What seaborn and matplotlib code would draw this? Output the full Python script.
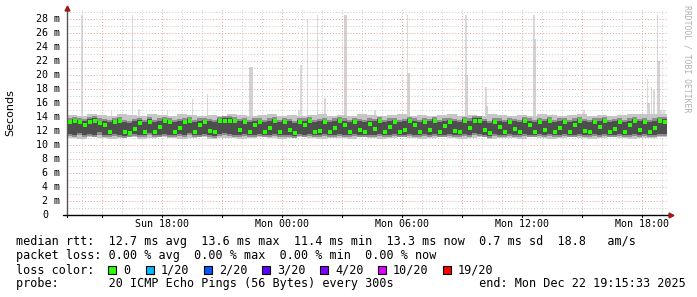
import numpy as np
import pandas as pd
import matplotlib
matplotlib.use("Agg")
import matplotlib.pyplot as plt
import seaborn as sns

# ---------------- data ----------------
# time axis: hours after the start of the window (Sun 13:15:33 -> Mon 19:15:33)
step_h = 0.25
median_ms = [
    13.3, 13.4, 13.3, 12.8, 13.3, 13.4, 13.2, 12.9, 11.9, 13.3,
    13.4, 11.8, 11.7, 12.3, 13.2, 11.9, 13.3, 11.8, 12.6, 13.4,
    13.3, 11.9, 12.4, 13.3, 13.4, 11.8, 12.9, 13.3, 12.0, 11.8,
    13.4, 13.5, 13.5, 13.4, 12.2, 13.3, 11.9, 12.8, 13.3, 11.8,
    12.5, 13.4, 11.9, 13.3, 12.1, 11.7, 13.3, 12.8, 13.4, 11.9,
    12.0, 13.3, 11.8, 12.4, 13.4, 12.9, 11.9, 13.3, 12.2, 11.8,
    13.0, 12.3, 13.4, 11.9, 12.6, 13.3, 11.8, 12.1, 13.4, 12.8,
    11.9, 13.3, 12.2, 13.4, 11.8, 12.7, 13.3, 12.0, 11.9, 13.4,
    12.4, 13.5, 13.5, 12.1, 11.7, 13.3, 12.6, 11.9, 13.3, 12.3,
    11.8, 13.4, 12.8, 11.9, 13.3, 12.1, 13.4, 11.8, 12.5, 13.3,
    11.9, 12.9, 13.4, 12.0, 11.8, 13.3, 12.6, 13.4, 11.9, 12.3,
    13.3, 11.8, 12.8, 13.4, 12.1, 13.3, 11.9, 12.5, 13.4, 13.3,
]
smoke_lo = [
    11.0, 10.9, 11.1, 11.0, 10.8, 11.0, 11.1, 10.9, 11.0, 11.2,
    11.0, 10.9, 11.0, 11.1, 10.9, 11.0, 11.0, 10.8, 11.0, 11.1,
    11.0, 10.9, 11.0, 11.1, 11.0, 10.9, 11.0, 11.0, 10.9, 11.1,
    11.0, 10.9, 11.0, 11.1, 11.0, 10.9, 11.0, 11.1, 11.0, 10.9,
    11.0, 11.1, 10.9, 11.0, 11.0, 10.9, 11.1, 11.0, 10.9, 11.0,
    11.1, 11.0, 10.9, 11.0, 11.1, 11.0, 10.9, 11.0, 11.0, 11.1,
]
smoke_hi = [
    14.3, 14.2, 14.4, 14.3, 14.1, 14.4, 14.3, 14.2, 14.5, 14.3,
    14.2, 14.4, 14.3, 14.2, 14.3, 14.1, 14.4, 14.3, 14.2, 14.3,
    14.4, 14.2, 14.3, 14.1, 14.3, 14.4, 14.2, 14.3, 14.2, 14.4,
    14.3, 14.2, 14.3, 14.4, 14.2, 14.3, 14.1, 14.3, 14.4, 14.2,
    14.3, 14.2, 14.4, 14.3, 14.2, 14.3, 14.2, 14.4, 14.3, 14.2,
    14.3, 14.4, 14.2, 14.3, 14.2, 14.3, 14.4, 14.5, 14.4, 14.5,
]
core_lo = [
    11.6, 11.5, 11.7, 11.4, 11.6, 11.5, 11.8, 11.5, 11.4, 11.6,
    11.5, 11.3, 11.4, 11.6, 11.5, 11.4, 11.7, 11.4, 11.5, 11.6,
    11.5, 11.4, 11.6, 11.5, 11.7, 11.4, 11.5, 11.6, 11.4, 11.3,
    11.6, 11.7, 11.6, 11.5, 11.4, 11.6, 11.4, 11.5, 11.6, 11.4,
    11.5, 11.6, 11.4, 11.5, 11.5, 11.3, 11.6, 11.5, 11.6, 11.4,
    11.5, 11.6, 11.4, 11.5, 11.6, 11.5, 11.4, 11.6, 11.5, 11.4,
    11.5, 11.5, 11.6, 11.4, 11.5, 11.6, 11.4, 11.5, 11.6, 11.5,
    11.4, 11.6, 11.5, 11.6, 11.4, 11.5, 11.6, 11.5, 11.4, 11.6,
    11.5, 11.7, 11.6, 11.5, 11.3, 11.6, 11.5, 11.4, 11.6, 11.5,
    11.4, 11.6, 11.5, 11.4, 11.6, 11.5, 11.6, 11.4, 11.5, 11.6,
    11.4, 11.5, 11.6, 11.5, 11.4, 11.6, 11.5, 11.6, 11.4, 11.5,
    11.6, 11.4, 11.5, 11.6, 11.5, 11.6, 11.4, 11.5, 11.6, 11.6,
]
core_hi = [
    13.6, 13.7, 13.6, 13.4, 13.7, 13.8, 13.5, 13.4, 13.3, 13.6,
    13.7, 13.3, 13.2, 13.4, 13.6, 13.3, 13.7, 13.3, 13.5, 13.7,
    13.6, 13.3, 13.4, 13.6, 13.7, 13.3, 13.5, 13.6, 13.4, 13.3,
    13.7, 13.8, 13.8, 13.7, 13.4, 13.6, 13.3, 13.5, 13.6, 13.3,
    13.5, 13.7, 13.3, 13.6, 13.4, 13.2, 13.6, 13.5, 13.7, 13.3,
    13.4, 13.6, 13.3, 13.5, 13.7, 13.5, 13.3, 13.6, 13.4, 13.3,
    13.5, 13.4, 13.7, 13.3, 13.5, 13.6, 13.3, 13.4, 13.7, 13.5,
    13.3, 13.6, 13.4, 13.7, 13.3, 13.5, 13.6, 13.4, 13.3, 13.7,
    13.5, 13.8, 13.8, 13.4, 13.2, 13.6, 13.5, 13.3, 13.6, 13.4,
    13.3, 13.7, 13.5, 13.3, 13.6, 13.4, 13.7, 13.3, 13.5, 13.6,
    13.3, 13.5, 13.7, 13.4, 13.3, 13.6, 13.5, 13.7, 13.3, 13.4,
    13.6, 13.3, 13.5, 13.7, 13.4, 13.6, 13.3, 13.5, 13.7, 13.7,
]
# narrow high-latency spikes (hour offset, top in ms)
spike_hour = [0.70, 2.18, 3.23, 3.55, 4.98, 6.23, 6.98, 9.12, 11.55, 11.65,
              11.98, 12.48, 12.85, 13.85, 15.35, 16.98, 19.90, 20.90, 23.30,
              24.23, 25.80, 28.98, 29.18, 29.30, 29.48, 29.65, 29.80]
spike_top = [28.6, 14.8, 28.6, 15.1, 14.8, 16.6, 17.3, 21.2, 15.0, 21.4,
             28.0, 28.6, 16.7, 28.6, 15.0, 28.6, 28.6, 18.3, 28.6,
             14.4, 15.0, 19.4, 18.3, 17.9, 28.6, 15.0, 15.0]
# denser lower part of some spikes
spike2_hour = [9.12, 13.85, 16.98, 19.90, 20.90, 23.30, 28.98, 29.48]
spike2_top = [21.2, 28.6, 20.3, 20.0, 15.6, 25.1, 16.0, 22.0]

x_tick_hours = [4.741, 10.741, 16.741, 22.741, 28.741]
x_tick_labels = ["Sun 18:00", "Mon 00:00", "Mon 06:00", "Mon 12:00", "Mon 18:00"]
y_ticks = list(range(0, 30, 2))
y_tick_labels = ["0"] + [f"{v} m" for v in y_ticks[1:]]

loss_labels = ["0", "1/20", "2/20", "3/20", "4/20", "10/20", "19/20"]
loss_colors = ["#26ff00", "#00b8ff", "#0059ff", "#5e00ff", "#7e00ff", "#dd00ff", "#ff0000"]

# ---------------- figure ----------------
sns.set_theme(style="white")
plt.rcParams["font.family"] = ["DejaVu Sans Mono", "DejaVu Sans"]

W, H = 697, 297
fig = plt.figure(figsize=(W / 100, H / 100), dpi=100)
fig.patch.set_facecolor("white")
ax = fig.add_axes([67 / W, (H - 215) / H, 600 / W, 205 / H])
ax.set_facecolor("white")
XMAX, YMAX = 30.0, 29.3
ax.set_xlim(0, XMAX)
ax.set_ylim(0, YMAX)

t = np.arange(len(median_ms)) * step_h
t_edges = np.append(t, t[-1] + step_h)
t_half = np.arange(len(smoke_lo)) * 0.5
t_half_edges = np.append(t_half, t_half[-1] + 0.5)

# spikes
ax.bar(spike_hour, np.array(spike_top) - 14.0, bottom=14.0, width=0.09,
       color="#dadada", linewidth=0, zorder=1, align="edge")
ax.bar(spike2_hour, np.array(spike2_top) - 14.0, bottom=14.0, width=0.16,
       color="#d2d2d2", linewidth=0, zorder=1.1, align="edge")

# grid
for v in np.arange(1, 30, 2):
    ax.axhline(v, color="#c8c8c8", lw=0.7, ls=(0, (1, 2)), zorder=1.5)
for v in np.arange(2, 30, 2):
    ax.axhline(v, color="#e4a0a0", lw=0.7, ls=(0, (1, 2)), zorder=1.5)
for h in np.arange(0.741, XMAX, 1.0):
    is_major = abs(((h - 1.741) / 3.0) - round((h - 1.741) / 3.0)) < 1e-6
    ax.axvline(h, color="#e4a0a0" if is_major else "#c8c8c8", lw=0.7,
               ls=(0, (1, 2)), zorder=1.5)

# smoke
ax.fill_between(t_half_edges, np.append(smoke_lo, smoke_lo[-1]),
                np.append(smoke_hi, smoke_hi[-1]), step="post",
                color="#c6c6c6", linewidth=0, zorder=2)
lo_e = np.append(core_lo, core_lo[-1])
hi_e = np.append(core_hi, core_hi[-1])
ax.fill_between(t_edges, lo_e - 0.3, hi_e + 0.3, step="post",
                color="#8e8e8e", linewidth=0, zorder=2.5)
ax.fill_between(t_edges, lo_e, hi_e, step="post",
                color="#4e4e4e", linewidth=0, zorder=3)

# median dots
df = pd.DataFrame({"hour": t + step_h / 2, "median": median_ms})
sns.scatterplot(data=df, x="hour", y="median", ax=ax, marker="s", s=9,
                color="#26ff00", linewidth=0, zorder=5, legend=False)

# axes lines and arrows
for s in ax.spines.values():
    s.set_visible(False)
ax.set_xticks([])
ax.set_yticks([])
ax.set_xlabel("")
ax.set_ylabel("")
ax.plot([-0.2, XMAX + 0.15], [0, 0], color="black", lw=1.0, clip_on=False, zorder=7)
ax.plot([0, 0], [0, YMAX + 0.2], color="#555555", lw=1.0, clip_on=False, zorder=7)
ax.plot([XMAX + 0.2], [0], marker=">", color="#a01818", ms=3.5, clip_on=False, zorder=8)
ax.plot([0], [YMAX + 0.3], marker="^", color="#a01818", ms=3.5, clip_on=False, zorder=8)
for h in np.arange(1.741, XMAX, 3.0):
    ax.plot([h, h], [-0.35, 0], color="black", lw=0.8, clip_on=False, zorder=7)
ax.plot([0, 0], [-0.35, 0], color="black", lw=0.8, clip_on=False, zorder=7)

# tick labels
ytr = ax.get_yaxis_transform()
for v, lab in zip(y_ticks, y_tick_labels):
    xr = -7 / 600 if v != 0 else -19 / 600
    ax.text(xr, v, lab, transform=ytr, ha="right", va="center",
            fontsize=7.2, color="black")
xtr = ax.get_xaxis_transform()
for h, lab in zip(x_tick_hours, x_tick_labels):
    ax.text(h, -9 / 205, lab, transform=xtr, ha="center", va="center",
            fontsize=7.2, color="black")

fig.text(10 / W, 1 - 113 / H, "Seconds", rotation=90, ha="center", va="center",
         fontsize=8, family="DejaVu Sans", color="black")
fig.text(687 / W, 1 - 59 / H, "RRDTOOL / TOBI OETIKER", rotation=-90,
         ha="center", va="center", fontsize=5.9, color="#b0b0b0")

# legend / statistics text
fs = 8.5
def ftext(x, y, s, **kw):
    fig.text(x / W, 1 - y / H, s, ha="left", va="center", fontsize=fs,
             color="black", **kw)

ftext(16, 241, "median rtt:  12.7 ms avg  13.6 ms max  11.4 ms min  13.3 ms now  0.7 ms sd  18.8   am/s")
ftext(16, 256, "packet loss: 0.00 % avg  0.00 % max  0.00 % min  0.00 % now")
ftext(16, 270, "loss color:")
box_x = [108, 146, 204, 262, 320, 378, 443]
for bx, lab, col in zip(box_x, loss_labels, loss_colors):
    fig.patches.append(plt.Rectangle((bx / W, 1 - 274 / H), 8 / W, 8 / H,
                                     transform=fig.transFigure, facecolor=col,
                                     edgecolor="black", lw=0.8))
    ftext(bx + 15, 270, lab)
ftext(16, 284, "probe:       20 ICMP Echo Pings (56 Bytes) every 300s            end: Mon Dec 22 19:15:33 2025")

fig.savefig("out.png", dpi=100, facecolor="white")
